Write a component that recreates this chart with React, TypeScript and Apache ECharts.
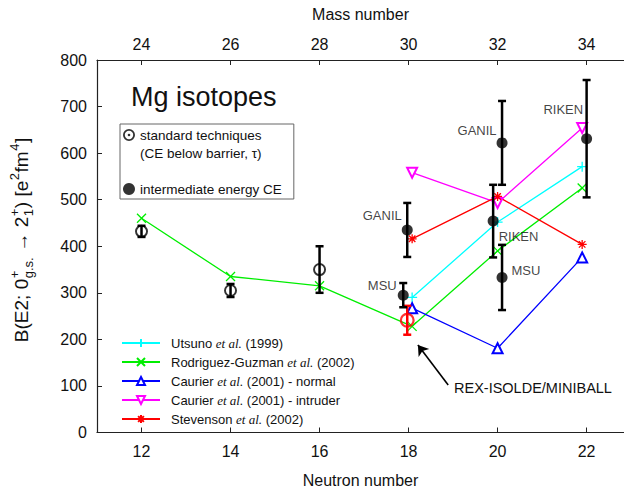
import React, { useEffect, useRef } from "react";
import * as echarts from "echarts";

// ---------- data ----------
const neutronTicks = [12, 14, 16, 18, 20, 22];
const massOffset = 12;

// standard techniques (open circles): [N, B(E2)], errors
const stdPoints = [[12, 432], [14, 305], [16, 350]];
const stdErrors = [12, 14, 50];
// REX-ISOLDE / MINIBALL
const rexPoints = [[17.97, 241]];
const rexErrors = [31];
// intermediate energy Coulomb excitation
const ceX = [17.88, 17.97, 19.9, 20.1, 20.1, 22.0];
const ceY = [295, 435, 454, 622, 333, 631];
const ceErr = [26, 58, 78, 90, 70, 126];
const ceLabels = ["MSU", "GANIL", "RIKEN", "GANIL", "MSU", "RIKEN"];

// theory
const utsuno = [[18.08, 290], [20, 452], [21.9, 571]];
const rodriguez = [[12, 460], [14, 335], [16, 315], [18.08, 228], [20, 390], [21.9, 525]];
const caurierNormal = [[18.08, 267], [20, 181], [21.9, 376]];
const caurierIntruder = [[18.08, 558], [20, 493], [21.9, 654]];
const stevenson = [[18.08, 416], [20, 507], [21.9, 404]];

const theoryNames = ["Utsuno", "Rodriguez-Guzman", "Caurier normal", "Caurier intruder", "Stevenson"];
const theoryLegendText: Record<string, string> = {
  "Utsuno": "Utsuno {i|et al.} (1999)",
  "Rodriguez-Guzman": "Rodriguez-Guzman {i|et al.} (2002)",
  "Caurier normal": "Caurier {i|et al.} (2001) - normal",
  "Caurier intruder": "Caurier {i|et al.} (2001) - intruder",
  "Stevenson": "Stevenson {i|et al.} (2002)",
};
const expLegendNames = ["standard techniques", "(CE below barrier, \u03c4)", "\u2002", "intermediate energy CE"];

// ---------- styles ----------
const FONT = "Liberation Sans, Arial, sans-serif";
const ringPath = "path://M0,-10A10,10,0,1,1,0,10A10,10,0,1,1,0,-10ZM0,-7A7,7,0,1,0,0,7A7,7,0,1,0,0,-7Z";
const ringDotPath = ringPath + "M0,-2.2A2.2,2.2,0,1,1,0,2.2A2.2,2.2,0,1,1,0,-2.2Z";
const plusPath = "path://M-5,0L5,0M0,-5L0,5";
const crossPath = "path://M-5,-5L5,5M-5,5L5,-5";
const starPath = "path://M-5,0L5,0M0,-5L0,5M-3.6,-3.6L3.6,3.6M-3.6,3.6L3.6,-3.6";

// label placement for CE points (layout only)
const ceLabelLayout = [
  { position: "left", distance: 1, offset: [0, -10] },
  { position: "left", distance: 0, offset: [0, -14] },
  { position: "right", distance: 0, offset: [0, 15] },
  { position: "left", distance: 0, offset: [0, -12] },
  { position: "right", distance: 4, offset: [0, -7] },
  { position: "left", distance: 0, offset: [2, -29] },
];

function errorBarSeries(name: string, pts: number[][], errs: number[], color: string) {
  return {
    type: "custom",
    name,
    z: 5,
    silent: true,
    data: pts.map((p, i) => [p[0], p[1], errs[i]]),
    encode: { x: 0, y: 1 },
    renderItem: (params: any, api: any) => {
      const x = api.value(0);
      const y = api.value(1);
      const e = api.value(2);
      const top = api.coord([x, y + e]);
      const bot = api.coord([x, y - e]);
      const hw = 4;
      const st = { stroke: color, lineWidth: 2.5 };
      return {
        type: "group",
        children: [
          { type: "line", shape: { x1: top[0], y1: top[1], x2: bot[0], y2: bot[1] }, style: st },
          { type: "line", shape: { x1: top[0] - hw, y1: top[1], x2: top[0] + hw, y2: top[1] }, style: st },
          { type: "line", shape: { x1: bot[0] - hw, y1: bot[1], x2: bot[0] + hw, y2: bot[1] }, style: st },
        ],
      };
    },
  };
}

function theorySeries(name: string, data: number[][], color: string, symbol: string, size: number, rotate = 0) {
  return {
    type: "line",
    name,
    data,
    z: 3,
    symbol,
    symbolSize: size,
    symbolRotate: rotate,
    showAllSymbol: true,
    lineStyle: { color, width: 1.3 },
    itemStyle: { color, borderColor: color, borderWidth: 1.3 },
    emphasis: { disabled: true },
  };
}

function buildYName() {
  const canvas = document.createElement("canvas");
  const ctx = canvas.getContext("2d")!;
  const big = 19;
  const small = 13;
  const w = (t: string, s: number) => {
    ctx.font = `${s}px ${FONT}`;
    return ctx.measureText(t).width;
  };
  const children: any[] = [];
  let x = 0;
  const main = (t: string) => {
    children.push({ type: "text", x, y: 0, style: { text: t, font: `${big}px ${FONT}`, fill: "#111", textVerticalAlign: "middle" } });
    x += w(t, big);
  };
  const stack = (sup: string | null, sub: string | null) => {
    let adv = 0;
    if (sup) {
      children.push({ type: "text", x: x + 0.5, y: -7, style: { text: sup, font: `${small}px ${FONT}`, fill: "#111", textVerticalAlign: "middle" } });
      adv = Math.max(adv, w(sup, small) + 1);
    }
    if (sub) {
      children.push({ type: "text", x: x + 0.5, y: 7, style: { text: sub, font: `${small}px ${FONT}`, fill: "#111", textVerticalAlign: "middle" } });
      adv = Math.max(adv, w(sub, small) + 1);
    }
    x += adv;
  };
  main("B(E2; 0");
  stack("+", "g.s.");
  main(" \u2192 2");
  stack("+", "1");
  main(") [e");
  stack("2", null);
  main("fm");
  stack("4", null);
  main("]");
  const total = x;
  return {
    type: "group",
    x: 21,
    y: 240 + total / 2,
    rotation: Math.PI / 2,
    children,
  };
}

export default function App() {
  const ref = useRef<HTMLDivElement>(null);
  useEffect(() => {
    if (!ref.current) return;
    const chart = echarts.init(ref.current, undefined, { renderer: "svg" });

    const ceData = ceX.map((x, i) => ({
      value: [x, ceY[i]],
      label: {
        show: true,
        formatter: ceLabels[i],
        position: ceLabelLayout[i].position,
        distance: ceLabelLayout[i].distance,
        offset: ceLabelLayout[i].offset,
        fontSize: 13,
        fontFamily: FONT,
        color: "#111",
      },
    }));

    const axisLine = { show: true, lineStyle: { color: "#222", width: 1.2 } };
    const hidden = { opacity: 0, color: "transparent", borderWidth: 0 };

    const option: any = {
      animation: false,
      backgroundColor: "#fff",
      textStyle: { fontFamily: FONT },
      grid: { left: 97, right: 0, top: 60, bottom: 61.5, containLabel: false },
      xAxis: [
        {
          type: "value",
          position: "bottom",
          min: 11,
          max: 22.84,
          name: "Neutron number",
          nameLocation: "middle",
          nameGap: 40,
          nameTextStyle: { fontSize: 16, color: "#111", fontFamily: FONT },
          axisLine,
          axisTick: { show: true, inside: true, length: 5, customValues: neutronTicks, lineStyle: { color: "#222" } },
          axisLabel: { customValues: neutronTicks, fontSize: 16, color: "#111", margin: 11, fontFamily: FONT },
          splitLine: { show: false },
        },
        {
          type: "value",
          position: "top",
          min: 11,
          max: 22.84,
          name: "Mass number",
          nameLocation: "middle",
          nameGap: 38,
          nameTextStyle: { fontSize: 16, color: "#111", fontFamily: FONT },
          axisLine,
          axisTick: { show: true, inside: true, length: 5, customValues: neutronTicks, lineStyle: { color: "#222" } },
          axisLabel: {
            customValues: neutronTicks,
            fontSize: 16,
            color: "#111",
            margin: 8,
            fontFamily: FONT,
            formatter: (v: number) => String(Math.round(v + massOffset)),
          },
          splitLine: { show: false },
        },
      ],
      yAxis: {
        type: "value",
        min: 0,
        max: 800,
        interval: 100,
        axisLine,
        axisTick: { show: true, inside: true, length: 5, lineStyle: { color: "#222" } },
        axisLabel: { fontSize: 16, color: "#111", margin: 10, fontFamily: FONT },
        splitLine: { show: false },
      },
      legend: [
        {
          orient: "vertical",
          left: 116,
          top: 336,
          padding: [0, 5, 0, 5],
          itemWidth: 38,
          itemHeight: 10,
          itemGap: 5,
          selectedMode: false,
          data: theoryNames,
          formatter: (n: string) => theoryLegendText[n] || n,
          textStyle: {
            fontSize: 13,
            lineHeight: 14,
            color: "#111",
            fontFamily: FONT,
            padding: [0, 0, 0, 6],
            rich: { i: { fontFamily: "Liberation Serif, Times New Roman, serif", fontStyle: "italic", fontSize: 13, color: "#111" } },
          },
        },
        {
          orient: "vertical",
          left: 120,
          top: 124,
          padding: [4, 12, 3, 3],
          borderColor: "#666",
          borderWidth: 1,
          itemWidth: 12,
          itemHeight: 12,
          itemGap: 4,
          selectedMode: false,
          data: [
            { name: expLegendNames[0], icon: ringDotPath },
            { name: expLegendNames[1], icon: "rect", itemStyle: hidden },
            { name: expLegendNames[2], icon: "rect", itemStyle: hidden },
            { name: expLegendNames[3], icon: "circle" },
          ],
          textStyle: { fontSize: 13.5, lineHeight: 14, color: "#111", fontFamily: FONT },
        },
      ],
      graphic: [
        buildYName(),
        {
          type: "text",
          x: 131,
          y: 97,
          style: { text: "Mg isotopes", font: `27px ${FONT}`, fill: "#111", textVerticalAlign: "middle" },
        },
        {
          type: "text",
          x: 454,
          y: 388,
          style: { text: "REX-ISOLDE/MINIBALL", font: `14.5px ${FONT}`, fill: "#111", textVerticalAlign: "middle" },
        },
      ],
      series: [
        theorySeries("Utsuno", utsuno, "#00ffff", plusPath, 10),
        theorySeries("Rodriguez-Guzman", rodriguez, "#00ee00", crossPath, 9),
        theorySeries("Caurier normal", caurierNormal, "#0000ff", "emptyTriangle", 10),
        theorySeries("Caurier intruder", caurierIntruder, "#ff00ff", "emptyTriangle", 10, 180),
        theorySeries("Stevenson", stevenson, "#ff0000", starPath, 9),
        errorBarSeries("stdErr", stdPoints, stdErrors, "#000"),
        errorBarSeries("rexErr", rexPoints, rexErrors, "#ff0000"),
        errorBarSeries("ceErr", ceX.map((x, i) => [x, ceY[i]]), ceErr, "#000"),
        {
          type: "scatter",
          name: expLegendNames[0],
          z: 6,
          data: stdPoints,
          symbol: ringPath,
          symbolSize: 13,
          itemStyle: { color: "#000" },
          emphasis: { disabled: true },
        },
        { type: "scatter", name: expLegendNames[1], data: [] },
        { type: "scatter", name: expLegendNames[2], data: [] },
        {
          type: "scatter",
          name: "rex",
          z: 6,
          data: rexPoints,
          symbol: ringPath,
          symbolSize: 15,
          itemStyle: { color: "#ff0000" },
          emphasis: { disabled: true },
          markLine: {
            silent: true,
            symbol: ["none", "arrow"],
            symbolSize: 10,
            lineStyle: { color: "#000", width: 1.6, type: "solid" },
            itemStyle: { color: "#000" },
            label: { show: false },
            data: [[{ coord: [18.89, 102] }, { coord: [18.21, 188] }]],
          },
        },
        {
          type: "scatter",
          name: expLegendNames[3],
          z: 6,
          data: ceData,
          symbol: "circle",
          symbolSize: 11,
          itemStyle: { color: "#000" },
          emphasis: { disabled: true },
        },
      ],
    };
    chart.setOption(option);
    return () => chart.dispose();
  }, []);

  return (
    <div
      ref={ref}
      style={{ position: "fixed", left: 0, top: 0, width: 624, height: 494, background: "#fff" }}
    />
  );
}
